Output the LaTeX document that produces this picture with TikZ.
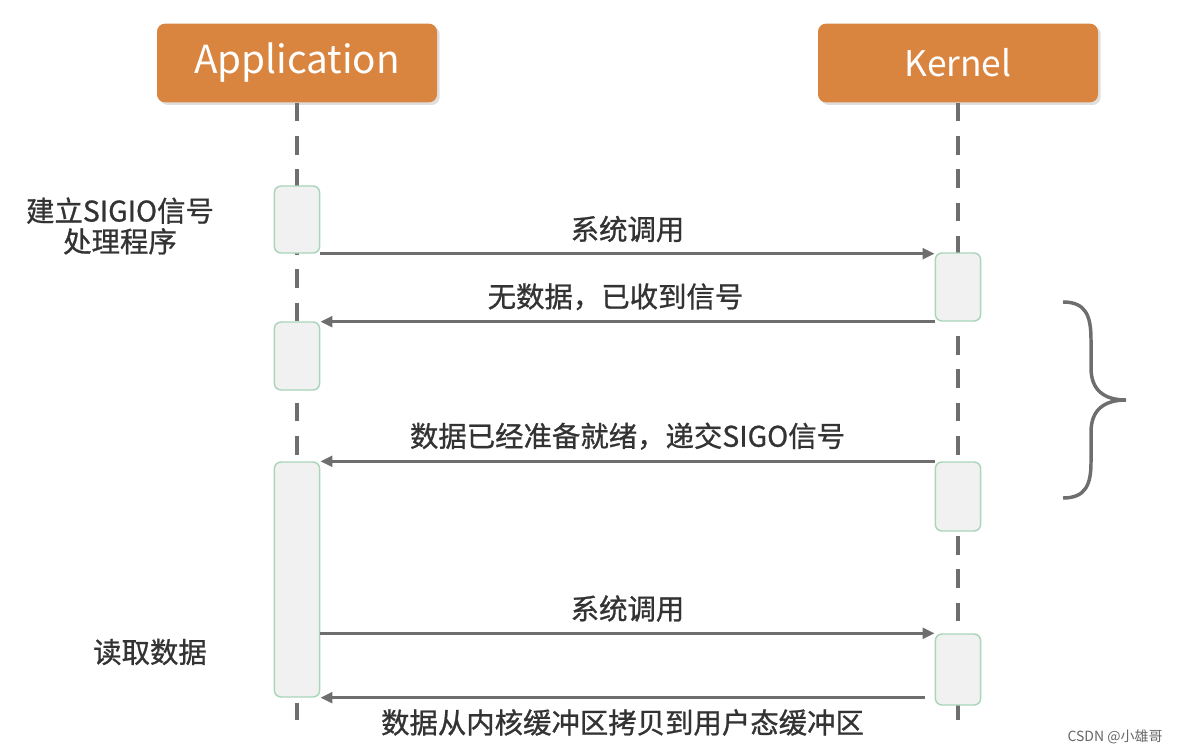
\documentclass[tikz,border=0pt]{standalone}
\usepackage{fontspec}
\setmainfont{Noto Sans CJK SC}
\newfontfamily\msgfont{Noto Sans CJK SC}[FakeBold=0.9]
\usetikzlibrary{arrows.meta}
\usetikzlibrary{shadows}

\definecolor{headorange}{HTML}{D9843F}
\definecolor{actgreen}{HTML}{A9D6BA}
\definecolor{actfill}{HTML}{F1F1F1}
\definecolor{msggray}{HTML}{6E6E6E}

\tikzset{
	header/.style={ rounded corners=6pt, fill=headorange, text=white, minimum width=210pt, minimum height=59pt,
		drop shadow={ opacity=0.25, shadow xshift=2pt, shadow yshift=-2pt } },
	act/.style={ rounded corners=5pt, draw=actgreen, fill=actfill, line width=1.1pt, minimum width=34pt, inner sep=0pt },
	lifeline/.style={ draw=msggray, line width=2.6pt, dash pattern=on 14pt off 11pt },
	msg/.style={ draw=msggray, line width=2.6pt, -{Triangle[ length=9pt, width=8pt ]} },
	msgtext/.style={ font=\msgfont\fontsize{21.3}{25}\selectfont, text=black!80 },
}

\begin{document}
\begin{tikzpicture}[ x=0.75pt, y=-0.75pt ]

	\useasboundingbox (0, 0) rectangle (1180, 752);

	\def\appx{297}
	\def\kerx{958}
	\def\lifeend{720}

	% headers
	\node[ header, font=\fontsize{29}{32}\selectfont ] (app) at (\appx, 63) {Application};
	\node[ header, font=\fontsize{26.5}{30}\selectfont ] (ker) at (\kerx, 63) {Kernel};

	\coordinate (append) at (\appx, \lifeend);
	\coordinate (kerend) at (\kerx, \lifeend);

	\draw[ lifeline ] (app.south) -- (append);
	\draw[ lifeline ] (ker.south) -- (kerend);

	% activations
	\foreach \name/\x/\y/\h in {a1/\appx/219.5/67, a2/\appx/356/68, a3/\appx/579.5/235,
		k1/\kerx/287/68, k2/\kerx/496.5/69, k3/\kerx/669.5/71} {
		\node[ act, minimum height=\h*0.75pt ] (\name) at (\x, \y) {};
	}

	% messages
	\draw[ msg ] (a1.south east) -- (a1.south east -| k1.west) node[ msgtext, midway, above=4pt ] {系统调用};
	\draw[ msg ] (k1.south west) -- (k1.south west -| a2.east) node[ msgtext, midway, above=4pt, xshift=-9pt ] {无数据，已收到信号};
	\draw[ msg ] (k2.north west) -- (k2.north west -| a3.east) node[ msgtext, midway, above=4pt ] {数据已经准备就绪，递交SIGO信号};
	\draw[ msg ] (a3.east |- k3.north) -- (k3.north west) node[ msgtext, midway, above=4pt ] {系统调用};
	\draw[ msg ] ([ xshift=-7.5pt ]k3.west |- a3.south) -- (a3.south east) node[ msgtext, midway, below=4pt ] {数据从内核缓冲区拷贝到用户态缓冲区};

	% notes
	\node[ msgtext, align=center ] (setup) at (120, 226) {建立SIGIO信号\\[-2pt]处理程序};
	\node[ msgtext ] (readdata) at (150, 652) {读取数据};

	% brace
	\draw[ msggray, line width=2.6pt ] (1063, 302) .. controls (1086, 302) and (1091, 316) .. (1091, 340)
		-- (1091, 368) .. controls (1091, 390) and (1104, 400) .. (1126, 400)
		.. controls (1104, 400) and (1091, 410) .. (1091, 432)
		-- (1091, 462) .. controls (1091, 484) and (1086, 498) .. (1063, 498);

	\node[ text=black!60, font=\fontsize{10.5}{12}\selectfont ] (mark) at (1115, 737) {CSDN @小雄哥};

\end{tikzpicture}
\end{document}
